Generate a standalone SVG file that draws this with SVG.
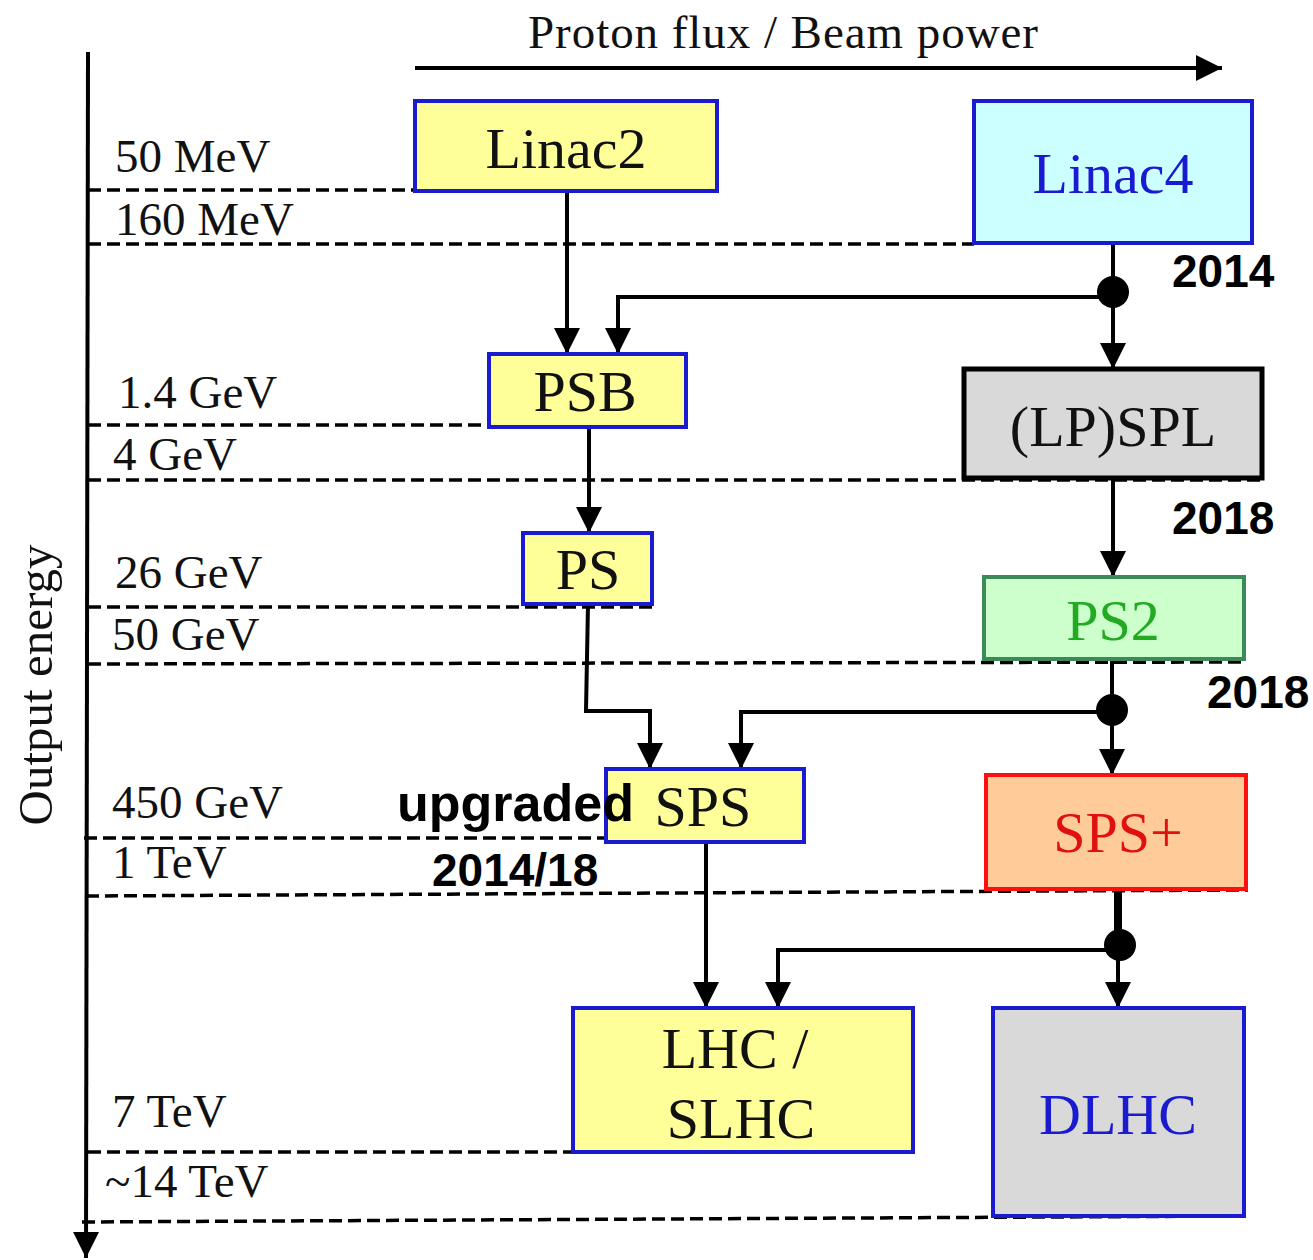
<svg xmlns="http://www.w3.org/2000/svg" width="1313" height="1260" viewBox="0 0 1313 1260">
<defs>
<marker id="ah" markerUnits="userSpaceOnUse" markerWidth="26" markerHeight="26" refX="26" refY="13" orient="auto">
<path d="M0,0 L26,13 L0,26 z" fill="#000"/>
</marker>
<style>
.box{stroke-width:4}
.lbl{font-family:"Liberation Serif","Times New Roman",serif;font-size:58px;text-anchor:middle}
.en{font-family:"Liberation Serif","Times New Roman",serif;font-size:47px;fill:#111}
.yr{font-family:"Liberation Sans",Arial,sans-serif;font-weight:bold;font-size:46px;fill:#000}
.big{font-size:52px}
.dash{stroke:#000;stroke-width:3.5;stroke-dasharray:13 6;fill:none}
.con{stroke:#000;stroke-width:4;fill:none}
</style>
</defs>
<rect width="1313" height="1260" fill="#fff"/>

<g id="axes">
<line x1="88" y1="52" x2="86" y2="1258" stroke="#000" stroke-width="4" marker-end="url(#ah)"/>
<line x1="415" y1="68" x2="1222" y2="68" stroke="#000" stroke-width="4" marker-end="url(#ah)"/>
<text x="783" y="48" text-anchor="middle" font-family="Liberation Serif, serif" font-size="47" textLength="510" fill="#111">Proton flux / Beam power</text>
<text transform="translate(52,685) rotate(-90)" text-anchor="middle" font-family="Liberation Serif, serif" font-size="49" fill="#111">Output energy</text>
</g>

<g id="levels">
<line class="dash" x1="88" y1="190" x2="415" y2="190"/>
<line class="dash" x1="88" y1="244" x2="974" y2="244"/>
<line class="dash" x1="88" y1="425" x2="686" y2="425"/>
<line class="dash" x1="88" y1="480" x2="1262" y2="480"/>
<line class="dash" x1="88" y1="607" x2="657" y2="607"/>
<line class="dash" x1="88" y1="664" x2="1244" y2="662"/>
<line class="dash" x1="84" y1="838" x2="770" y2="838"/>
<line class="dash" x1="86" y1="896" x2="1248" y2="890"/>
<line class="dash" x1="88" y1="1152" x2="913" y2="1152"/>
<line class="dash" x1="82" y1="1222" x2="1244" y2="1216"/>
<text class="en" x="115" y="172">50 MeV</text>
<text class="en" x="115" y="235">160 MeV</text>
<text class="en" x="118" y="408">1.4 GeV</text>
<text class="en" x="113" y="470">4 GeV</text>
<text class="en" x="115" y="588">26 GeV</text>
<text class="en" x="112" y="650">50 GeV</text>
<text class="en" x="112" y="818">450 GeV</text>
<text class="en" x="112" y="878">1 TeV</text>
<text class="en" x="112" y="1127">7 TeV</text>
<text class="en" x="105" y="1197">~14 TeV</text>
</g>

<g id="connectors">
<line class="con" x1="567" y1="191" x2="567" y2="354" marker-end="url(#ah)"/>
<polyline class="con" points="1113,297 618,297 618,354" marker-end="url(#ah)"/>
<line class="con" x1="1113" y1="243" x2="1113" y2="369" marker-end="url(#ah)"/>
<circle cx="1113" cy="292" r="16" fill="#000"/>
<line class="con" x1="589" y1="427" x2="589" y2="533" marker-end="url(#ah)"/>
<line class="con" x1="1113" y1="478" x2="1113" y2="577" marker-end="url(#ah)"/>
<polyline class="con" points="588,604 586,711 650,711 650,769" marker-end="url(#ah)"/>
<polyline class="con" points="1112,712 741,712 741,769" marker-end="url(#ah)"/>
<line class="con" x1="1112" y1="659" x2="1112" y2="775" marker-end="url(#ah)"/>
<circle cx="1112" cy="710" r="16" fill="#000"/>
<line class="con" x1="706" y1="842" x2="706" y2="1008" marker-end="url(#ah)"/>
<line x1="1118" y1="889" x2="1118" y2="945" stroke="#000" stroke-width="8"/>
<polyline class="con" points="1120,950 778,950 778,1008" marker-end="url(#ah)"/>
<line class="con" x1="1118" y1="945" x2="1118" y2="1008" marker-end="url(#ah)"/>
<circle cx="1120" cy="945" r="16" fill="#000"/>
</g>

<g id="linac2"><rect class="box" x="415" y="101" width="302" height="90" fill="#ffff99" stroke="#1a1ad0"/><text class="lbl" x="566" y="168" fill="#111">Linac2</text></g>
<g id="linac4"><rect class="box" x="974" y="101" width="278" height="142" fill="#ccffff" stroke="#1a1ad0"/><text class="lbl" x="1113" y="193" fill="#1a1ad0">Linac4</text></g>
<g id="psb"><rect class="box" x="489" y="354" width="197" height="73" fill="#ffff99" stroke="#1a1ad0"/><text class="lbl" x="585" y="411" fill="#111">PSB</text></g>
<g id="spl"><rect x="964" y="369" width="298" height="109" fill="#d9d9d9" stroke="#000" stroke-width="5"/><text class="lbl" x="1113" y="446" fill="#111">(LP)SPL</text></g>
<g id="ps"><rect class="box" x="523" y="533" width="129" height="71" fill="#ffff99" stroke="#1a1ad0"/><text class="lbl" x="588" y="589" fill="#111">PS</text></g>
<g id="ps2"><rect class="box" x="984" y="577" width="260" height="82" fill="#ccffcc" stroke="#3a8a5a"/><text class="lbl" x="1113" y="640" fill="#22aa22">PS2</text></g>
<g id="sps"><rect class="box" x="606" y="769" width="198" height="73" fill="#ffff99" stroke="#1a1ad0"/><text class="lbl" x="703" y="826" fill="#111">SPS</text></g>
<g id="spsplus"><rect class="box" x="986" y="775" width="260" height="114" fill="#ffcc99" stroke="#ff1010"/><text class="lbl" x="1118" y="852" fill="#e01010">SPS+</text></g>
<g id="lhc"><rect class="box" x="573" y="1008" width="340" height="144" fill="#ffff99" stroke="#1a1ad0"/><text class="lbl" x="735" y="1068" fill="#111">LHC /</text><text class="lbl" x="741" y="1138" fill="#111">SLHC</text></g>
<g id="dlhc"><rect class="box" x="993" y="1008" width="251" height="208" fill="#d9d9d9" stroke="#1a1ad0"/><text class="lbl" x="1118" y="1134" fill="#1a1ad0">DLHC</text></g>

<g id="years">
<text class="yr" x="1172" y="287">2014</text>
<text class="yr" x="1172" y="534">2018</text>
<text class="yr" x="1207" y="708">2018</text>
<text class="yr big" x="397" y="821">upgraded</text>
<text class="yr" x="432" y="886">2014/18</text>
</g>
</svg>
